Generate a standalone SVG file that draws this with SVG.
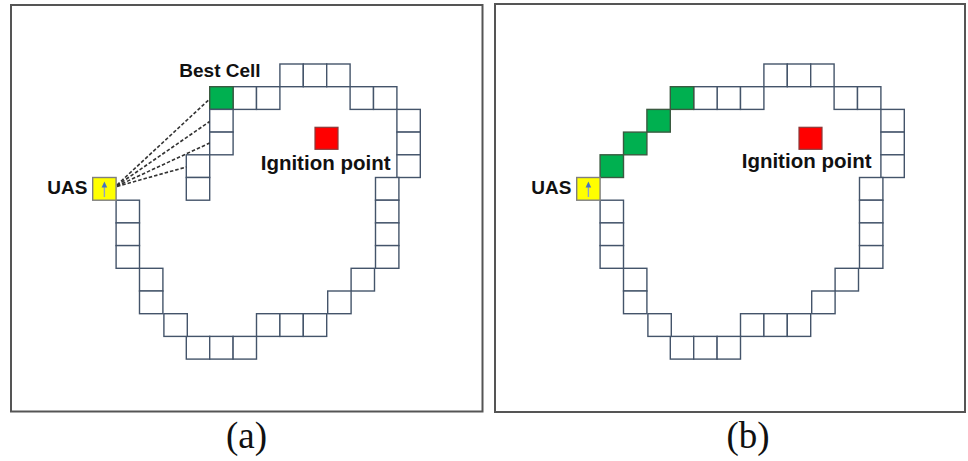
<svg xmlns="http://www.w3.org/2000/svg" xmlns:xlink="http://www.w3.org/1999/xlink" width="968" height="461" viewBox="0 0 968 461">
<style>
.frame{fill:#fff;stroke:#555;stroke-width:2}
.c{fill:#fff;stroke:#44546a;stroke-width:1.4}
.g{fill:#00b050;stroke:#3a5a40;stroke-width:1.4}
.uas{fill:#ffff00;stroke:#7f7f7f;stroke-width:1.4}
.red{fill:#ff0000;stroke:#8b3a3a;stroke-width:1.2}
.lbl{font-family:"Liberation Sans",Arial,sans-serif;font-weight:bold;font-size:19px;fill:#111}
.ign{font-size:20.5px}
.cap{font-family:"Liberation Serif","Times New Roman",serif;font-size:37px;fill:#111;text-anchor:middle}
.dash{stroke:#333;stroke-width:1.6;stroke-dasharray:3.5 2;fill:none}
</style>
<defs>
<g id="ring">
<rect class="c" x="233.1" y="86.7" width="23.4" height="22.7"/>
<rect class="c" x="256.5" y="86.7" width="23.4" height="22.7"/>
<rect class="c" x="279.9" y="64" width="23.4" height="22.7"/>
<rect class="c" x="303.3" y="64" width="23.4" height="22.7"/>
<rect class="c" x="326.7" y="64" width="23.4" height="22.7"/>
<rect class="c" x="350.1" y="86.7" width="23.4" height="22.7"/>
<rect class="c" x="373.5" y="86.7" width="23.4" height="22.7"/>
<rect class="c" x="396.9" y="109.4" width="23.4" height="22.7"/>
<rect class="c" x="396.9" y="132.1" width="23.4" height="22.7"/>
<rect class="c" x="396.9" y="154.8" width="23.4" height="22.7"/>
<rect class="c" x="375.5" y="177.5" width="23.4" height="22.7"/>
<rect class="c" x="375.5" y="200.2" width="23.4" height="22.7"/>
<rect class="c" x="375.5" y="222.9" width="23.4" height="22.7"/>
<rect class="c" x="375.5" y="245.6" width="23.4" height="22.7"/>
<rect class="c" x="351.1" y="268.3" width="23.4" height="22.7"/>
<rect class="c" x="327.7" y="291" width="23.4" height="22.7"/>
<rect class="c" x="256.5" y="313.7" width="23.4" height="22.7"/>
<rect class="c" x="279.9" y="313.7" width="23.4" height="22.7"/>
<rect class="c" x="303.3" y="313.7" width="23.4" height="22.7"/>
<rect class="c" x="186.3" y="336.4" width="23.4" height="22.7"/>
<rect class="c" x="209.7" y="336.4" width="23.4" height="22.7"/>
<rect class="c" x="233.1" y="336.4" width="23.4" height="22.7"/>
<rect class="c" x="163.9" y="313.7" width="23.4" height="22.7"/>
<rect class="c" x="139.5" y="268.3" width="23.4" height="22.7"/>
<rect class="c" x="139.5" y="291" width="23.4" height="22.7"/>
<rect class="c" x="116.1" y="200.2" width="23.4" height="22.7"/>
<rect class="c" x="116.1" y="222.9" width="23.4" height="22.7"/>
<rect class="c" x="116.1" y="245.6" width="23.4" height="22.7"/>
<rect class="red" x="315" y="127.3" width="23" height="22"/>
</g>
<g id="uasCell">
<rect class="uas" x="92.7" y="177.5" width="23.4" height="22.7"/>
<line x1="104.4" y1="197" x2="104.4" y2="186" stroke="#8da0c8" stroke-width="1.4"/>
<polygon points="104.4,181.5 101.6,187.5 107.2,187.5" fill="#4472c4"/>
</g>
</defs>

<g id="panel-a">
<rect class="frame" x="11" y="5" width="471.5" height="406.5"/>
<g id="ring-a"><use xlink:href="#ring"/></g>
<g id="extra-a">
<rect class="g" x="209.7" y="86.7" width="23.4" height="22.7"/>
<rect class="c" x="209.7" y="109.4" width="23.4" height="22.7"/>
<rect class="c" x="209.7" y="132.1" width="23.4" height="22.7"/>
<rect class="c" x="186.3" y="154.8" width="23.4" height="22.7"/>
<rect class="c" x="186.3" y="177.5" width="23.4" height="22.7"/>
</g>
<g id="connectors-a">
<line class="dash" x1="117" y1="185" x2="209.7" y2="99"/>
<line class="dash" x1="117" y1="185.5" x2="209.7" y2="121.5"/>
<line class="dash" x1="117" y1="186" x2="209.7" y2="143"/>
<line class="dash" x1="117" y1="186.5" x2="186.3" y2="167"/>
</g>
<g id="uas-a"><use xlink:href="#uasCell"/></g>
<text class="lbl" x="179.3" y="76.5">Best Cell</text>
<text class="lbl ign" x="260.7" y="170">Ignition point</text>
<text class="lbl" x="47.3" y="194.3">UAS</text>
<text class="cap" x="246.5" y="448">(a)</text>
</g>

<g id="panel-b">
<rect class="frame" x="495" y="4" width="470" height="408"/>
<g id="ring-b" transform="translate(484,0)"><use xlink:href="#ring"/></g>
<g id="extra-b" transform="translate(484,0)">
<rect class="c" x="209.7" y="86.7" width="23.4" height="22.7"/>
<rect class="g" x="186.3" y="86.7" width="23.4" height="22.7"/>
<rect class="g" x="162.9" y="109.4" width="23.4" height="22.7"/>
<rect class="g" x="139.5" y="132.1" width="23.4" height="22.7"/>
<rect class="g" x="116.1" y="154.8" width="23.4" height="22.7"/>
</g>
<g id="uas-b" transform="translate(484,0)"><use xlink:href="#uasCell"/></g>
<text class="lbl ign" x="741.7" y="168">Ignition point</text>
<text class="lbl" x="531.3" y="194.3">UAS</text>
<text class="cap" x="748" y="448">(b)</text>
</g>
</svg>
